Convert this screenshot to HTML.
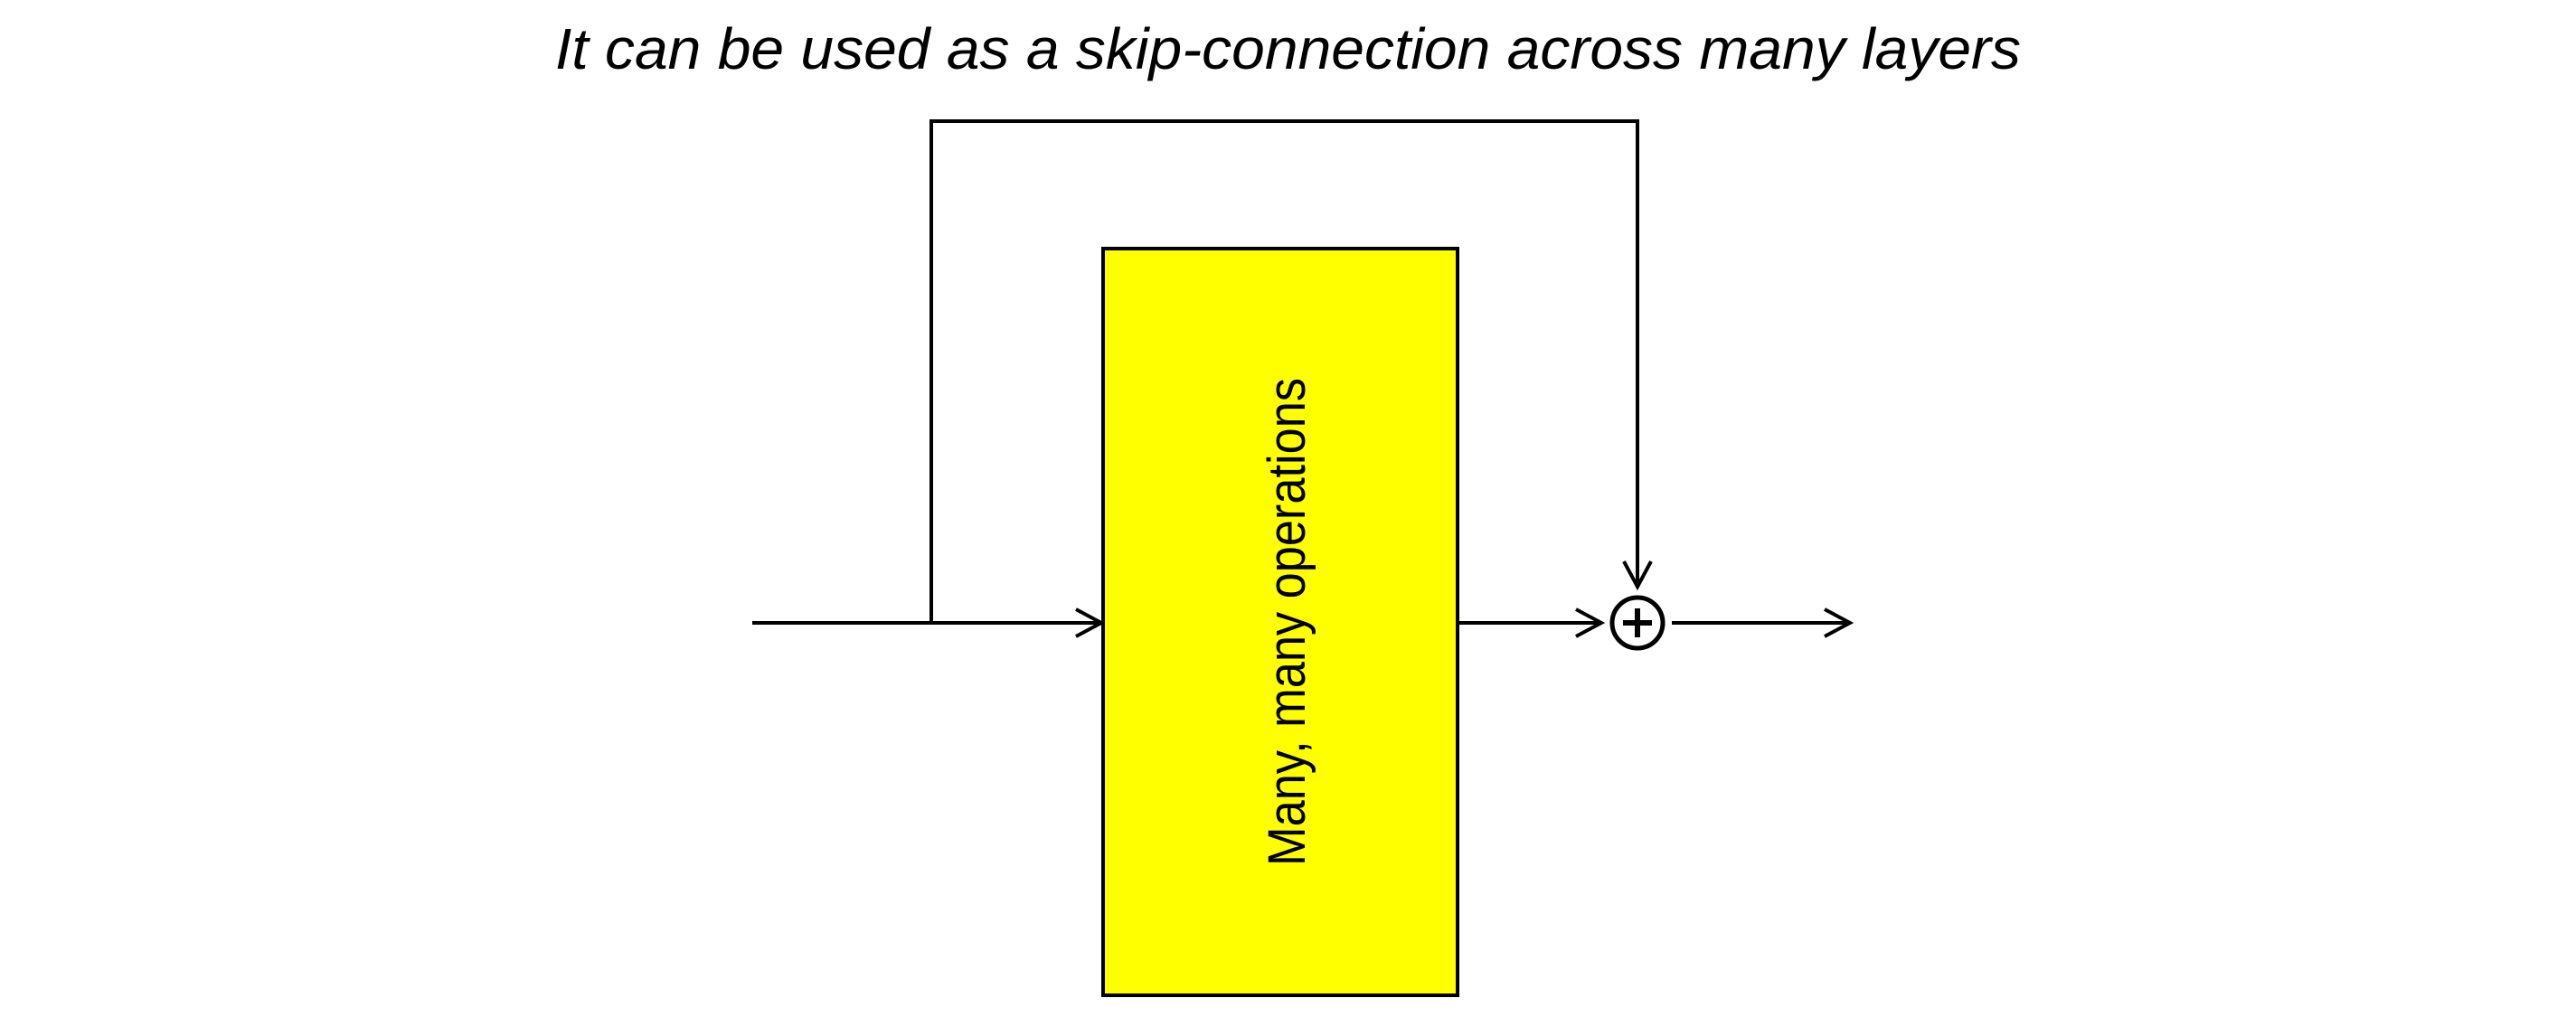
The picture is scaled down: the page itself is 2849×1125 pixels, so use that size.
<!DOCTYPE html>
<html><head><meta charset="utf-8"><style>html,body{margin:0;padding:0;background:#fff}svg{display:block}</style></head>
<body>
<svg width="2849" height="1125" viewBox="0 0 2849 1125" xmlns="http://www.w3.org/2000/svg">
<rect width="2849" height="1125" fill="#fff"/>
<text x="614" y="76" font-family="Liberation Sans, sans-serif" font-style="italic" font-size="64" textLength="1621" lengthAdjust="spacingAndGlyphs" fill="#000">It can be used as a skip-connection across many layers</text>
<g stroke="#000" stroke-width="4" fill="none">
<rect x="1220" y="275" width="392" height="826" fill="#ffff00"/>
<polyline points="1030,689 1030,134 1811,134 1811,650"/>
<line x1="832" y1="689" x2="1218" y2="689"/>
<polyline points="1190,674 1218,689 1190,704"/>
<line x1="1612" y1="689" x2="1771" y2="689"/>
<polyline points="1743,674 1771,689 1743,704"/>
<polyline points="1796,621 1811,649 1826,621"/>
<line x1="1849" y1="689" x2="2046" y2="689"/>
<polyline points="2018,674 2046,689 2018,704"/>
<circle cx="1811" cy="689" r="28" stroke-width="5"/>
<line x1="1795" y1="689" x2="1827" y2="689" stroke-width="6"/>
<line x1="1811" y1="673" x2="1811" y2="705" stroke-width="6"/>
</g>
<text transform="translate(1443,958) rotate(-90)" font-family="Liberation Sans, sans-serif" font-size="58" textLength="540" lengthAdjust="spacingAndGlyphs" fill="#000">Many, many operations</text>
</svg>
</body></html>
